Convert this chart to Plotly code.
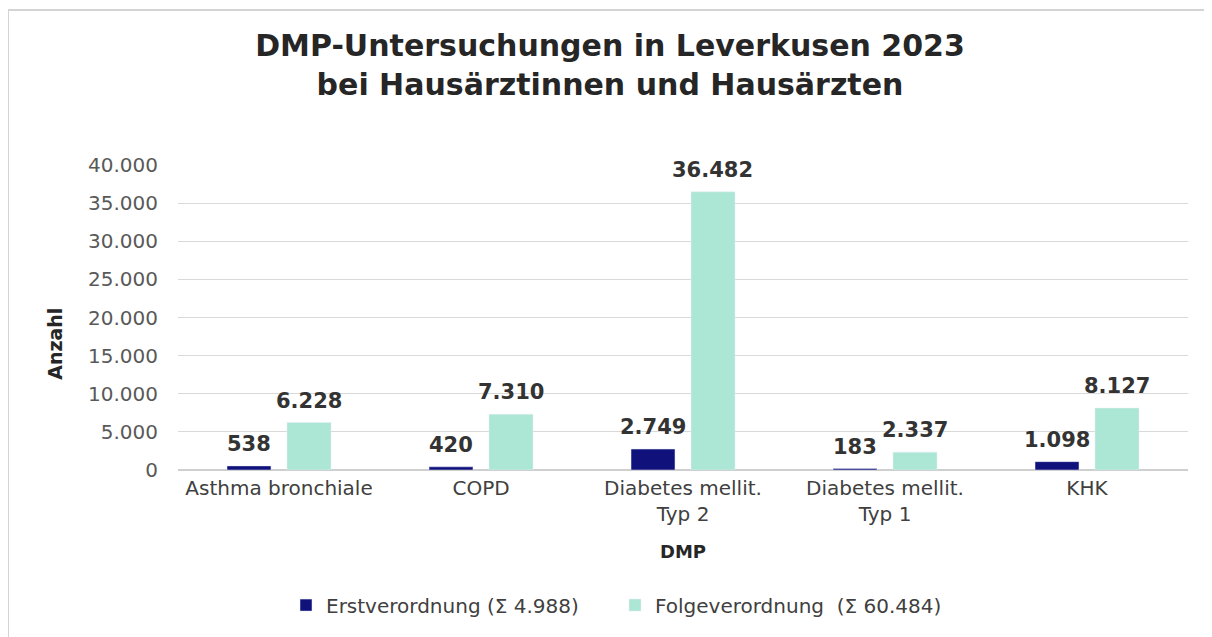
import plotly.graph_objects as go

categories = ["Asthma bronchiale", "COPD", "Diabetes mellit.<br>Typ 2", "Diabetes mellit.<br>Typ 1", "KHK"]
erst = [538, 420, 2749, 183, 1098]
folge = [6228, 7310, 36482, 2337, 8127]
series_names = ["Erstverordnung (Σ 4.988)", "Folgeverordnung  (Σ 60.484)"]
y_ticks = [0, 5000, 10000, 15000, 20000, 25000, 30000, 35000, 40000]
y_ticktext = ["0", "5.000", "10.000", "15.000", "20.000", "25.000", "30.000", "35.000", "40.000"]

DARK = "#11117c"
LIGHT = "#ace6d4"
FONT = "DejaVu Sans"

# page body has an 8px margin; work in figure coordinates
W, H = 1204, 629
ML, MR, MT, MB = 170, 24, 157, 165
BARGAP, BARGROUPGAP = 0.406, 0.267
plot_w = W - ML - MR
plot_h = H - MT - MB

fig = go.Figure()
fig.add_bar(x=categories, y=erst, name=series_names[0], marker_color=DARK)
fig.add_bar(x=categories, y=folge, name=series_names[1], marker_color=LIGHT)

def fmt(v):
    return f"{v:,}".replace(",", ".")

cat_px = plot_w / len(categories)
slot_px = cat_px * (1 - BARGAP) / 2
for i, c in enumerate(categories):
    for vals, sign in ((erst, -1), (folge, 1)):
        fig.add_annotation(x=c, y=vals[i], text=fmt(vals[i]), showarrow=False,
                           xshift=sign * slot_px / 2, yshift=8, yanchor="bottom",
                           font=dict(family=FONT, size=21, color="#333333", weight="bold"))

# y axis title placed like the reference (lower than centre)
fig.add_annotation(text="Anzahl", xref="paper", yref="paper", textangle=-90,
                   x=(47 - ML) / plot_w, y=(H - MB - 337) / plot_h,
                   xanchor="center", yanchor="middle", showarrow=False,
                   font=dict(family=FONT, size=19, color="#262626", weight="bold"))

fig.add_shape(type="rect", xref="paper", yref="paper",
              x0=(0 - ML) / plot_w, x1=(W - 3 - ML) / plot_w,
              y0=-0.6, y1=(H - MB - 1) / plot_h,
              line=dict(color="#d4d4d4", width=2), fillcolor="rgba(0,0,0,0)", layer="below")

fig.update_layout(
    width=W, height=H,
    margin=dict(l=ML, r=MR, t=MT, b=MB),
    paper_bgcolor="white", plot_bgcolor="white",
    barmode="group", bargap=BARGAP, bargroupgap=BARGROUPGAP,
    title=dict(text="DMP-Untersuchungen in Leverkusen 2023<br>bei Hausärztinnen und Hausärzten",
               x=0.5, xanchor="center", y=1 - 48 / H, yanchor="middle",
               font=dict(family=FONT, size=30, color="#262626", weight="bold")),
    font=dict(family=FONT, color="#404040"),
    showlegend=True,
    legend=dict(orientation="h", x=(278 - ML) / plot_w, xanchor="left",
                y=(H - MB - 600) / plot_h, entrywidth=284, entrywidthmode="pixels",
                yanchor="middle", font=dict(family=FONT, size=20, color="#404040"),
                itemwidth=30, traceorder="normal"),
    xaxis=dict(title=dict(text="DMP", font=dict(family=FONT, size=18, color="#262626", weight="bold"),
                          standoff=20),
               tickfont=dict(family=FONT, size=20, color="#404040"),
               showgrid=False, showline=False, ticks="", ticklabelstandoff=4),
    yaxis=dict(title=dict(text=""),
               range=[0, 40000], tickvals=y_ticks, ticktext=y_ticktext,
               tickfont=dict(family=FONT, size=20, color="#595959"),
               gridcolor="#d9d9d9", gridwidth=1, zeroline=True, zerolinecolor="#cfcfcf",
               showline=False, ticks="", ticklabelstandoff=19),
)

fig.write_html("out.html")
